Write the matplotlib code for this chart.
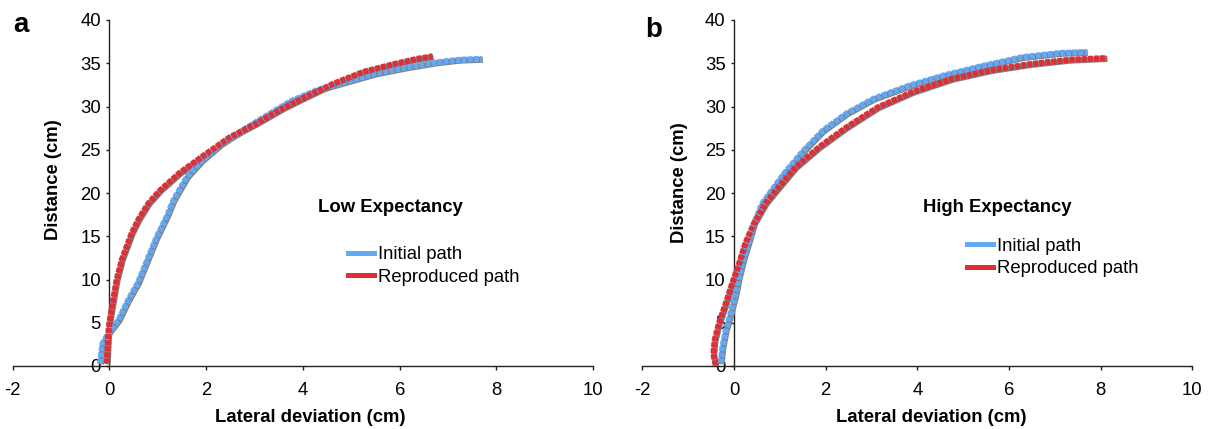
import matplotlib
matplotlib.use("Agg")
import matplotlib.pyplot as plt
import matplotlib.transforms as mtransforms
from matplotlib.lines import Line2D

plt.rcParams['font.family'] = ['Liberation Sans', 'DejaVu Sans']

# ---------------- data ----------------
# Panel a: Low Expectancy
a_initial_x = [-0.19, -0.14, 0.01, 0.19, 0.39, 0.60, 0.81, 0.98, 1.19, 1.33, 1.61, 1.92,
               2.32, 2.80, 3.27, 3.75, 4.30, 4.86, 5.49, 6.12, 6.76, 7.23, 7.70]
a_initial_y = [0.3, 2.6, 4.0, 5.3, 7.6, 9.7, 12.6, 14.9, 17.3, 19.2, 21.9, 23.8,
               25.7, 27.4, 29.0, 30.6, 31.9, 32.8, 33.8, 34.5, 35.1, 35.4, 35.5]
a_reprod_x = [-0.05, -0.02, 0.01, 0.08, 0.15, 0.26, 0.36, 0.46, 0.60, 0.81, 1.05, 1.45,
              1.92, 2.48, 3.03, 3.59, 4.06, 4.62, 5.25, 5.88, 6.36, 6.68]
a_reprod_y = [0.3, 3.8, 5.3, 7.6, 9.9, 12.3, 13.8, 15.3, 16.9, 18.8, 20.3, 22.3,
              24.2, 26.4, 28.0, 29.8, 31.1, 32.6, 34.0, 34.9, 35.5, 35.8]

# Panel b: High Expectancy
b_initial_x = [-0.29, -0.25, -0.18, -0.07, 0.04, 0.11, 0.22, 0.33, 0.44, 0.62, 1.09,
               1.52, 1.94, 2.46, 3.05, 3.82, 4.59, 5.44, 6.29, 7.15, 7.70]
b_initial_y = [0.3, 2.2, 4.1, 6.1, 8.4, 10.3, 12.6, 14.5, 16.5, 18.8, 22.2,
               24.9, 27.2, 29.2, 30.9, 32.4, 33.6, 34.7, 35.7, 36.2, 36.3]
b_reprod_x = [-0.40, -0.45, -0.42, -0.33, -0.18, -0.04, 0.11, 0.25, 0.44, 0.69, 0.92,
              1.35, 1.86, 2.46, 3.14, 3.91, 4.76, 5.61, 6.46, 7.32, 8.13]
b_reprod_y = [0.1, 1.4, 3.0, 4.9, 7.2, 9.5, 11.8, 14.2, 16.5, 18.8, 20.3,
              23.0, 25.3, 27.6, 29.9, 31.7, 33.2, 34.2, 34.9, 35.4, 35.6]

panel_letters = ['a', 'b']
panel_titles = ['Low Expectancy', 'High Expectancy']
series_labels = ['Initial path', 'Reproduced path']
x_ticks = [-2, 0, 2, 4, 6, 8, 10]
y_ticks = [0, 5, 10, 15, 20, 25, 30, 35, 40]
x_label = 'Lateral deviation (cm)'
y_label = 'Distance (cm)'

# ---------------- styling ----------------
BLUE = '#63A8F2'
RED = '#DF2E36'
GRAY = '#808080'
W, H = 1213, 429
FS = 13.3

fig = plt.figure(figsize=(W / 100, H / 100), dpi=100)


def fx(px):
    return px / W


def fy(py):
    return 1 - py / H


layout = [
    dict(l=12.5, r=593.3, t=20, b=366,
         letter=(20.5, 31.5), title=(390, 207), legend=(348, 266),
         ylab=(53, 180), xlab=(310, 418)),
    dict(l=642.3, r=1192.3, t=20, b=366,
         letter=(654, 37), title=(997, 207), legend=(967, 257.5),
         ylab=(680, 183), xlab=(931, 418)),
]

data = [
    ((a_initial_x, a_initial_y), (a_reprod_x, a_reprod_y)),
    ((b_initial_x, b_initial_y), (b_reprod_x, b_reprod_y)),
]

for i, L in enumerate(layout):
    ax = fig.add_axes([fx(L['l']), fy(L['b']), fx(L['r'] - L['l']), (L['b'] - L['t']) / H])
    ax.set_xlim(-2, 10)
    ax.set_ylim(0, 40)
    shadow = mtransforms.offset_copy(ax.transData, fig=fig, x=0.6, y=-0.6, units='points')
    for (xs, ys), col in zip(data[i], [BLUE, RED]):
        ax.plot(xs, ys, color=GRAY, lw=4.4, transform=shadow, solid_capstyle='butt',
                solid_joinstyle='round', zorder=3)
        ax.plot(xs, ys, color=col, lw=4.4, dashes=(0.8, 0.2), dash_capstyle='butt',
                zorder=4)

    for s in ['top', 'right']:
        ax.spines[s].set_visible(False)
    ax.spines['left'].set_position(('data', 0))
    for s in ['left', 'bottom']:
        ax.spines[s].set_linewidth(1.0)
        ax.spines[s].set_color('#222222')
    ax.set_xticks(x_ticks)
    ax.set_yticks(y_ticks)
    ax.tick_params(axis='x', direction='out', length=3.2, width=1, pad=8.3,
                   labelsize=FS, color='#222222')
    ax.tick_params(axis='y', direction='out', length=2.4, width=1, pad=3.6,
                   labelsize=FS, color='#222222')
    ax.set_xticklabels([str(t) for t in x_ticks])
    ax.set_yticklabels([str(t) for t in y_ticks])

    fig.text(fx(L['xlab'][0]), fy(L['xlab'][1]), x_label, ha='center', va='center',
             fontsize=FS, fontweight='bold')
    fig.text(fx(L['ylab'][0]), fy(L['ylab'][1]), y_label, ha='center', va='center',
             fontsize=FS, fontweight='bold', rotation=90)
    fig.text(fx(L['letter'][0]), fy(L['letter'][1]), panel_letters[i], ha='center',
             va='baseline', fontsize=20, fontweight='bold')
    fig.text(fx(L['title'][0]), fy(L['title'][1]), panel_titles[i], ha='center',
             va='center', fontsize=FS, fontweight='bold')

    handles = [Line2D([], [], color=BLUE, lw=3.6), Line2D([], [], color=RED, lw=3.6)]
    fig.legend(handles, series_labels, loc='center left',
               bbox_to_anchor=(fx(L['legend'][0]), fy(L['legend'][1])),
               frameon=False, fontsize=FS, handlelength=1.4, handletextpad=0.2,
               labelspacing=0.3, borderpad=0, borderaxespad=0)

fig.savefig('out.png', dpi=100)
